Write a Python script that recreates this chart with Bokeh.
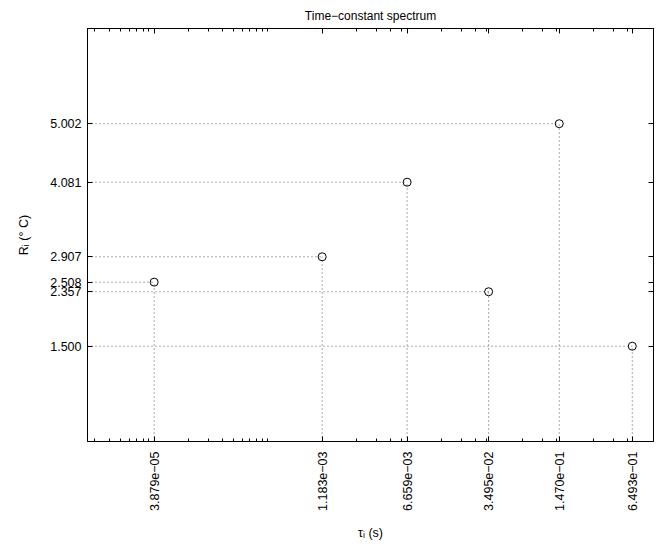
import math
from bokeh.plotting import figure
from bokeh.models import (FixedTicker, Range1d, LinearAxis, LogAxis, ColumnDataSource)
from bokeh.embed import file_html
from bokeh.resources import INLINE

# ---- data ----
tau = [3.879e-05, 1.183e-03, 6.659e-03, 3.495e-02, 1.470e-01, 6.493e-01]   # time constants (s)
R = [2.508, 2.907, 4.081, 2.357, 5.002, 1.500]                              # resistances (°C)
title_text = "Time\u2212constant spectrum"
x_label = "\u03c4\u1d62 (s)"
y_label = "R\u1d62 (\u00b0 C)"
x_lo, x_hi = 1e-05, 1.0
y_lo, y_hi = 0.0, 6.5

x_tick_labels = {t: f"{t:.3e}".replace("-", "\u2212") for t in tau}
y_tick_labels = {r: f"{r:.3f}" for r in R}

# MATLAB-style minor ticks: multiples of each major tick until the next one
minor = []
for n in range(1, 10):
    v = n * tau[0] / 10
    if v > x_lo:
        minor.append(v)
for i, m in enumerate(tau):
    nxt = tau[i + 1] if i + 1 < len(tau) else x_hi
    for n in range(2, 11):
        v = n * m
        if v < nxt:
            minor.append(v)

FONT = "Liberation Sans"

p = figure(width=659, height=547, x_axis_type="log",
           x_range=Range1d(x_lo, x_hi), y_range=Range1d(y_lo, y_hi),
           output_backend="svg", toolbar_location=None,
           min_border_left=87, min_border_right=6, min_border_top=28, min_border_bottom=106)
p.grid.visible = False
p.outline_line_color = "black"
p.outline_line_width = 1
p.background_fill_color = "white"
p.border_fill_color = "white"

p.title.text = title_text
p.title.align = "center"
p.title.text_font = FONT
p.title.text_font_style = "normal"
p.title.text_font_size = "12px"
p.title.text_color = "black"
p.title.standoff = 12

src = ColumnDataSource(dict(tau=tau, R=R, x0=[x_lo] * len(tau), y0=[y_lo] * len(R)))

p.segment(x0="x0", y0="R", x1="tau", y1="R", source=src,
          line_color="#555555", line_width=1, line_dash="1 3")
p.segment(x0="tau", y0="y0", x1="tau", y1="R", source=src,
          line_color="#555555", line_width=1, line_dash="1 3")
p.scatter(x="tau", y="R", source=src, marker="circle", size=8,
          fill_color=None, line_color="black", line_width=1)

xt = FixedTicker(ticks=tau, minor_ticks=minor)
yt = FixedTicker(ticks=sorted(R))


def style(ax, labels=True):
    ax.axis_line_color = "black"
    ax.axis_line_width = 1
    ax.major_tick_line_color = "black"
    ax.minor_tick_line_color = "black"
    ax.major_tick_in = 5
    ax.major_tick_out = 0
    ax.minor_tick_in = 3
    ax.minor_tick_out = 0
    ax.major_label_text_font = FONT
    ax.axis_label_text_font = FONT
    ax.axis_label_text_font_style = "normal"
    ax.axis_label_text_color = "black"
    if labels:
        ax.major_label_text_color = "black"
        ax.major_label_text_font_size = "12.5px"
        ax.axis_label_text_font_size = "12.5px"
    else:
        ax.major_label_text_color = None
        ax.major_label_text_font_size = "1px"
        ax.major_label_standoff = 0


xa = p.xaxis[0]
xa.ticker = xt
xa.major_label_overrides = x_tick_labels
xa.major_label_orientation = math.pi / 2
xa.major_label_standoff = 10
xa.axis_label = x_label
xa.axis_label_standoff = 12
style(xa)

ya = p.yaxis[0]
ya.ticker = yt
ya.major_label_overrides = y_tick_labels
ya.major_label_standoff = 6
ya.axis_label = y_label
ya.axis_label_standoff = 16
style(ya)

top = LogAxis(ticker=FixedTicker(ticks=tau, minor_ticks=minor))
style(top, labels=False)
p.add_layout(top, "above")

right = LinearAxis(ticker=FixedTicker(ticks=sorted(R)))
style(right, labels=False)
p.add_layout(right, "right")

open("out.html", "w").write(file_html(p, INLINE))
